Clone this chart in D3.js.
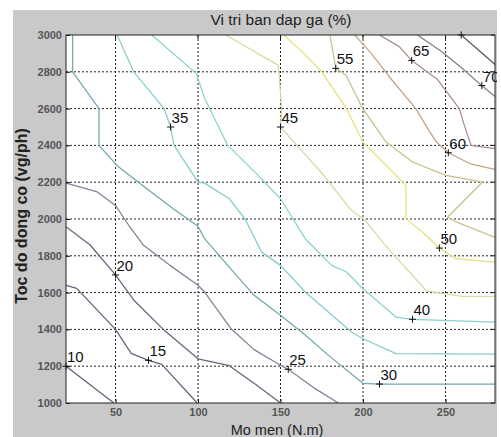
<!DOCTYPE html>
<html>
<head>
<meta charset="utf-8">
<script src="https://cdn.jsdelivr.net/npm/d3@7"></script>
<style>
  html, body { margin: 0; padding: 0; background: #ffffff; }
  svg { display: block; }
  text { font-family: "Liberation Sans", Arial, sans-serif; }
</style>
</head>
<body>
<svg id="chart" width="501" height="437"></svg>
<script>
// Contour levels of pedal position (%) over torque (N.m) and engine speed (rpm)
const levels = [10, 15, 20, 25, 30, 35, 40, 45, 50, 55, 60, 65, 70, 75];
const levelColors = ["#5a6074", "#5d6479", "#5f677b", "#7c8596", "#6fa9ab", "#86cccc", "#8ad2cf",
                     "#d3dca2", "#e6e07a", "#c7c08c", "#c0a585", "#a88a92", "#8a7c80", "#5e5e62"];

// Contour paths, [torque, speed] pairs
const c10 = [[20,1200],[49,1000]];
const c15 = [[20,1640],[26.5,1623],[50,1400],[59.5,1270],[70,1232],[78,1210],[99.5,1000]];
const c20 = [[20,1958],[34.5,1860],[50,1696],[61,1560],[79,1400],[100,1240],[119,1203],[135,1100],[150,1000]];
const c25 = [[20,2195],[39,2147],[50,2074],[58,1966],[67,1857],[83,1748],[100,1640],[104,1603],[120,1404],[134,1290],[150,1205],[154.7,1183],[171,1078],[185,1000]];
const c30 = [[24,3000],[24,2800],[40,2600],[40,2400],[51,2290],[69,2165],[85,2056],[100,1960],[104,1893],[118,1748],[134,1585],[150,1477],[165,1370],[180,1252],[200,1107],[210,1103],[280,1103]];
const c35 = [[51,3000],[61,2800],[79.5,2600],[83.4,2500],[85.5,2400],[100,2200],[104,2195],[119,2110],[128.5,2000],[138.6,1820],[150,1748],[165,1603],[193,1386],[200,1349],[220,1268],[280,1266]];
const c40 = [[72,3000],[99,2790],[104,2656],[118,2400],[134.5,2255],[150,2110],[165,1893],[181,1748],[190,1712],[200,1621],[220,1467],[230,1455],[280,1440]];
const c45 = [[117,3000],[129.5,2935],[148.7,2835],[150.7,2600],[150,2500],[160,2400],[175,2250],[192.7,2050],[201,1995],[216,1831],[238.5,1610],[260,1580],[280,1580]];
const c50 = [[152,3000],[162,2918],[175,2800],[190,2600],[200,2418],[214,2292],[226,2183],[226,2002],[236,1929],[246.3,1842],[256,1784],[280,1766]];
const c55 = [[180,3000],[183.5,2819],[189.7,2781],[199.8,2600],[214,2418],[230,2310],[250.3,2237],[272.5,2201],[251.3,2011],[256.4,1984],[280,1900]];
const c60 = [[195,3000],[205,2900],[218,2750],[232,2600],[240,2480],[244.5,2418],[251.7,2360],[265,2300],[280,2270]];
const c65 = [[210,3000],[222,2937],[229.5,2862],[245,2760],[258.4,2600],[261.4,2509],[265.5,2400],[280,2383]];
const c70 = [[233,3000],[248,2908],[260.4,2817],[272,2725],[280,2665]];
const c75 = [[259.5,3000],[280,2840]];
const contourPaths = [c10, c15, c20, c25, c30, c35, c40, c45, c50, c55, c60, c65, c70, c75];

// Inline label anchor for each level (75 sits on the top edge, its value falls outside)
const labelPoints = [[20,1200],[70,1232],[50,1696],[154.7,1183],[210,1103],[83.4,2500],[230,1455],
                     [150,2500],[246.3,1842],[183.5,2819],[251.7,2360],[229.5,2862],[272,2725],[259.5,3000]];
const labelShown = [true, true, true, true, true, true, true, true, true, true, true, true, true, false];

const xTicks = [50, 100, 150, 200, 250];
const yTicks = [1000, 1200, 1400, 1600, 1800, 2000, 2200, 2400, 2600, 2800, 3000];

const titleText = "Vi tri ban dap ga (%)";
const xLabel = "Mo men (N.m)";
const yLabel = "Toc do dong co (vg/ph)";

const svg = d3.select("#chart");
const W = 501, H = 437;
const plot = { left: 66, right: 495, top: 35, bottom: 403 };
const figRight = 497;

// figure background
svg.append("rect").attr("x", 13).attr("y", 10).attr("width", figRight - 13).attr("height", H - 10)
  .attr("fill", "#c9c9c9");

const x = d3.scaleLinear().domain([20, 280]).range([plot.left, plot.right]);
const y = d3.scaleLinear().domain([1000, 3000]).range([plot.bottom, plot.top]);

svg.append("rect").attr("x", plot.left).attr("y", plot.top)
  .attr("width", plot.right - plot.left).attr("height", plot.bottom - plot.top)
  .attr("fill", "#ffffff");

const defs = svg.append("defs");
defs.append("clipPath").attr("id", "plotClip").append("rect")
  .attr("x", plot.left).attr("y", plot.top)
  .attr("width", plot.right - plot.left).attr("height", plot.bottom - plot.top);
defs.append("clipPath").attr("id", "figClip").append("rect")
  .attr("x", 0).attr("y", 0).attr("width", figRight).attr("height", H);

// dotted grid
const grid = svg.append("g").attr("class", "grid");
grid.selectAll("line.gx").data(xTicks).join("line")
  .attr("x1", d => x(d)).attr("x2", d => x(d))
  .attr("y1", plot.top).attr("y2", plot.bottom)
  .attr("stroke", "#222").attr("stroke-width", 1).attr("stroke-dasharray", "2,2");
grid.selectAll("line.gy").data(yTicks.filter(v => v > 1000 && v < 3000)).join("line")
  .attr("x1", plot.left).attr("x2", plot.right)
  .attr("y1", d => y(d)).attr("y2", d => y(d))
  .attr("stroke", "#222").attr("stroke-width", 1).attr("stroke-dasharray", "2,2");

// contour lines
const line = d3.line().x(d => x(d[0])).y(d => y(d[1]));
const cg = svg.append("g").attr("clip-path", "url(#plotClip)");
cg.selectAll("path.contour").data(contourPaths).join("path")
  .attr("class", "contour")
  .attr("d", d => line(d))
  .attr("fill", "none")
  .attr("stroke", (d, i) => levelColors[i])
  .attr("stroke-width", 1.25)
  .attr("stroke-linejoin", "round");

// inline labels: "+" marker and the level value
const lab = svg.append("g").attr("clip-path", "url(#figClip)");
labelPoints.forEach((p, i) => {
  const px = x(p[0]), py = y(p[1]);
  lab.append("path")
    .attr("d", `M${px - 3.5},${py}H${px + 3.5}M${px},${py - 3.5}V${py + 3.5}`)
    .attr("stroke", "#111").attr("stroke-width", 1);
  if (labelShown[i]) {
    lab.append("text").attr("x", px + 1).attr("y", py - 4)
      .attr("font-size", 15).attr("fill", "#111")
      .text(levels[i]);
  }
});

// axes box with inward ticks
const fmt = d3.format("d");
const axX = d3.axisBottom(x).tickValues(xTicks).tickFormat(fmt).tickSizeInner(-4).tickSizeOuter(0).tickPadding(5);
const axY = d3.axisLeft(y).tickValues(yTicks).tickFormat(fmt).tickSizeInner(-4).tickSizeOuter(0).tickPadding(4);
const gx = svg.append("g").attr("transform", `translate(0,${plot.bottom})`).call(axX);
const gy = svg.append("g").attr("transform", `translate(${plot.left},0)`).call(axY);
[gx, gy].forEach(g => {
  g.select(".domain").remove();
  g.selectAll(".tick line").attr("stroke", "#111");
  g.selectAll(".tick text").attr("font-size", 11).attr("font-weight", "bold")
    .attr("fill", "#555").attr("font-family", "'Liberation Sans', Arial, sans-serif");
});
// ticks on top and right edges
svg.append("g").selectAll("line").data(xTicks).join("line")
  .attr("x1", d => x(d)).attr("x2", d => x(d)).attr("y1", plot.top).attr("y2", plot.top + 4)
  .attr("stroke", "#111");
svg.append("g").selectAll("line").data(yTicks).join("line")
  .attr("x1", plot.right - 4).attr("x2", plot.right).attr("y1", d => y(d)).attr("y2", d => y(d))
  .attr("stroke", "#111");
svg.append("rect").attr("x", plot.left).attr("y", plot.top)
  .attr("width", plot.right - plot.left).attr("height", plot.bottom - plot.top)
  .attr("fill", "none").attr("stroke", "#222").attr("stroke-width", 1);

// titles
svg.append("text").attr("x", 281).attr("y", 25).attr("text-anchor", "middle")
  .attr("font-size", 15.5).attr("fill", "#222").text(titleText);
svg.append("text").attr("x", 277).attr("y", 434.5).attr("text-anchor", "middle")
  .attr("font-size", 14.5).attr("fill", "#222").text(xLabel);
svg.append("text").attr("transform", "translate(27,216) rotate(-90)").attr("text-anchor", "middle")
  .attr("font-size", 16).attr("font-weight", "bold").attr("fill", "#222").text(yLabel);
</script>
</body>
</html>
